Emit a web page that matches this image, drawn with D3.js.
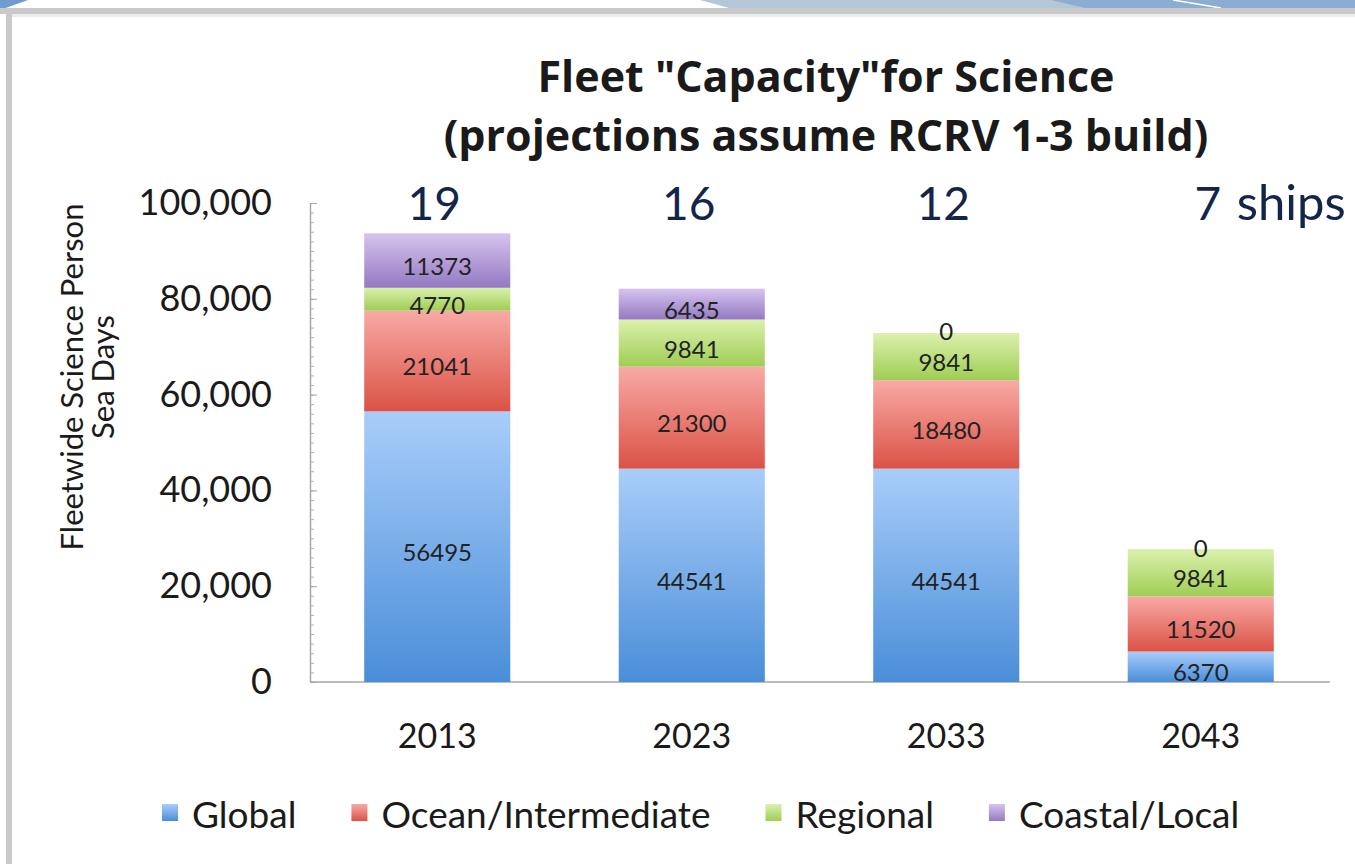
<!DOCTYPE html>
<html>
<head>
    <meta charset="utf-8"/>
    <title>Fleet Capacity for Science</title>
    <script src="https://d3js.org/d3.v7.min.js"></script>
    <style>
        body { margin: 0; background: #ffffff; }
        svg { display: block; }
        text { font-family: Lato, 'Open Sans', sans-serif; }
    </style>
</head>
<body>
<div id="chart"></div>
<script>
    const years = ['2013', '2023', '2033', '2043']
    const shipCounts = ['19', '16', '12', '7']
    const seriesNames = ['Global', 'Ocean/Intermediate', 'Regional', 'Coastal/Local']
    const globalDays = [56495, 44541, 44541, 6370]
    const oceanDays = [21041, 21300, 18480, 11520]
    const regionalDays = [4770, 9841, 9841, 9841]
    const coastalDays = [11373, 6435, 0, 0]
    const yTicks = [0, 20000, 40000, 60000, 80000, 100000]

    const WIDTH = 1355
    const HEIGHT = 864
    const PLOT_LEFT = 310
    const PLOT_RIGHT = 1328
    const PLOT_TOP = 203
    const PLOT_BOTTOM = 682

    // light (top) / dark (bottom) of each segment gradient
    const SERIES_COLORS = [
        ['#a9cdfa', '#4a8ed8'],
        ['#f8aaa5', '#db5246'],
        ['#dbf1ad', '#9fcd54'],
        ['#d6c4ef', '#9479c1']
    ]

    const svg = d3.select('#chart')
        .append('svg')
        .attr('width', WIDTH)
        .attr('height', HEIGHT)

    drawFrame()

    const x = d3.scaleBand()
        .domain(years)
        .range([PLOT_LEFT, PLOT_RIGHT])
        .paddingInner(0.426)
        .paddingOuter(0.213)

    const y = d3.scaleLinear()
        .domain([0, 100000])
        .range([PLOT_BOTTOM, PLOT_TOP])

    const table = years.map((year, i) => ({
        year: year,
        Global: globalDays[i],
        'Ocean/Intermediate': oceanDays[i],
        Regional: regionalDays[i],
        'Coastal/Local': coastalDays[i]
    }))
    const stacked = d3.stack().keys(seriesNames)(table)

    initGradients()
    drawTitle()
    drawYAxis()
    drawYTitle()
    drawXAxis()
    drawBars()
    drawShipCounts()
    drawLegend()

    function drawFrame() {
        const g = svg.append('g')
        g.append('polygon').attr('points', '0,0 28,0 0,10').attr('fill', '#6f9ccc')
        g.append('polygon').attr('points', '700,0 1355,0 1355,8 729,8').attr('fill', '#b4c7d8')
        g.append('polygon').attr('points', '1051,0 1355,0 1355,8 1085,8').attr('fill', '#8cadd2')
        g.append('line')
            .attr('x1', 1173).attr('y1', 0).attr('x2', 1221).attr('y2', 8)
            .style('stroke', '#ffffff').style('stroke-width', 1.5)
        g.append('rect').attr('x', 0).attr('y', 8).attr('width', WIDTH).attr('height', 6).attr('fill', '#c9c9c9')
        g.append('rect').attr('x', 12).attr('y', 14).attr('width', WIDTH).attr('height', 3).attr('fill', '#ececec')
        g.append('rect').attr('x', 6).attr('y', 8).attr('width', 6).attr('height', HEIGHT).attr('fill', '#cacaca')
    }

    function initGradients() {
        const defs = svg.append('defs')
        SERIES_COLORS.forEach((pair, i) => {
            const grad = defs.append('linearGradient')
                .attr('id', 'grad' + i)
                .attr('x1', 0).attr('y1', 0).attr('x2', 0).attr('y2', 1)
            grad.append('stop').attr('offset', '0%').attr('stop-color', pair[0])
            grad.append('stop').attr('offset', '100%').attr('stop-color', pair[1])
        })
    }

    function drawTitle() {
        const title = svg.append('text')
            .attr('text-anchor', 'middle')
            .style('font-family', "'Open Sans', sans-serif")
            .style('font-size', '43px')
            .style('font-weight', 'bold')
            .style('fill', '#1a1a1a')
        title.append('tspan').attr('x', 826).attr('y', 92).text('Fleet "Capacity"for Science')
        title.append('tspan').attr('x', 826).attr('y', 151).text('(projections assume RCRV 1-3 build)')
    }

    function drawYAxis() {
        // labels
        svg.append('g')
            .attr('transform', `translate(${PLOT_LEFT},0)`)
            .call(d3.axisLeft(y).tickValues(yTicks).tickSize(0).tickPadding(38)
                .tickFormat(d3.format(',')))
            .call(g => g.select('.domain').remove())
            .call(g => g.selectAll('text')
                .style('font-family', 'Lato, sans-serif')
                .style('font-size', '36px')
                .style('fill', '#1a1a1a'))

        // minor ticks
        svg.append('g')
            .attr('transform', `translate(${PLOT_LEFT},0)`)
            .call(d3.axisRight(y).tickValues(d3.range(0, 100001, 2000)).tickSize(4).tickFormat('').tickSizeOuter(0))
            .call(g => g.select('.domain').style('stroke', '#a6a6a6').style('stroke-width', 1.5))
            .call(g => g.selectAll('line').style('stroke', '#b0b0b0'))

        // major ticks
        svg.append('g')
            .attr('transform', `translate(${PLOT_LEFT},0)`)
            .call(d3.axisRight(y).tickValues(yTicks).tickSize(7).tickFormat('').tickSizeOuter(0))
            .call(g => g.select('.domain').remove())
            .call(g => g.selectAll('line').style('stroke', '#a6a6a6'))
    }

    function drawYTitle() {
        const t = svg.append('text')
            .attr('transform', 'translate(0,377) rotate(-90)')
            .attr('text-anchor', 'middle')
            .style('font-size', '31px')
            .style('fill', '#1a1a1a')
        t.append('tspan').attr('x', 0).attr('y', 83).text('Fleetwide Science Person')
        t.append('tspan').attr('x', 0).attr('y', 114).text('Sea Days')
    }

    function drawXAxis() {
        svg.append('g')
            .attr('transform', `translate(0,${PLOT_BOTTOM})`)
            .call(d3.axisBottom(x).tickSize(0).tickPadding(42).tickSizeOuter(0))
            .call(g => g.select('.domain').attr('d', `M${PLOT_LEFT},0H${PLOT_RIGHT + 2}`)
                .style('stroke', '#a6a6a6').style('stroke-width', 1.5))
            .call(g => g.selectAll('text')
                .style('font-family', 'Lato, sans-serif')
                .style('font-size', '34px')
                .style('fill', '#1a1a1a'))
    }

    function drawBars() {
        const layers = svg.append('g')
            .selectAll('g')
            .data(stacked)
            .join('g')
            .attr('fill', (d, i) => `url(#grad${i})`)

        layers.selectAll('rect')
            .data(d => d)
            .join('rect')
            .attr('x', d => x(d.data.year))
            .attr('width', x.bandwidth())
            .attr('y', d => y(d[1]))
            .attr('height', d => y(d[0]) - y(d[1]))

        const labels = svg.append('g')
        stacked.forEach(layer => {
            labels.selectAll(null)
                .data(layer)
                .join('text')
                .attr('x', d => x(d.data.year) + x.bandwidth() / 2)
                .attr('y', d => d[1] - d[0] === 0
                    ? y(d[1]) - 2
                    : (y(d[0]) + y(d[1])) / 2 + 5)
                .attr('text-anchor', 'middle')
                .attr('dominant-baseline', 'central')
                .style('font-size', '24px')
                .style('fill', '#222222')
                .text(d => d[1] - d[0])
        })
    }

    function drawShipCounts() {
        const g = svg.append('g')
            .style('font-size', '46px')
            .style('fill', '#13264a')
        shipCounts.forEach((count, i) => {
            const last = i === shipCounts.length - 1
            const cx = x(years[i]) + x.bandwidth() / 2
            g.append('text')
                .attr('x', last ? cx + 7 : cx - 3)
                .attr('y', 220)
                .attr('text-anchor', 'middle')
                .text(count)
            if (last) {
                g.append('text')
                    .attr('x', cx + 36)
                    .attr('y', 220)
                    .style('font-size', '49px')
                    .text('ships')
            }
        })
    }

    function drawLegend() {
        const g = svg.append('g').attr('transform', 'translate(162,813)')
        let offset = 0
        seriesNames.forEach((name, i) => {
            g.append('rect')
                .attr('x', offset)
                .attr('y', -9)
                .attr('width', 16)
                .attr('height', 17)
                .attr('fill', `url(#grad${i})`)
            const label = g.append('text')
                .attr('x', offset + 30)
                .attr('y', 0)
                .attr('dominant-baseline', 'central')
                .style('font-size', '37px')
                .style('fill', '#1a1a1a')
                .text(name)
            offset += 30 + label.node().getComputedTextLength() + 55
        })
    }
</script>
</body>
</html>
